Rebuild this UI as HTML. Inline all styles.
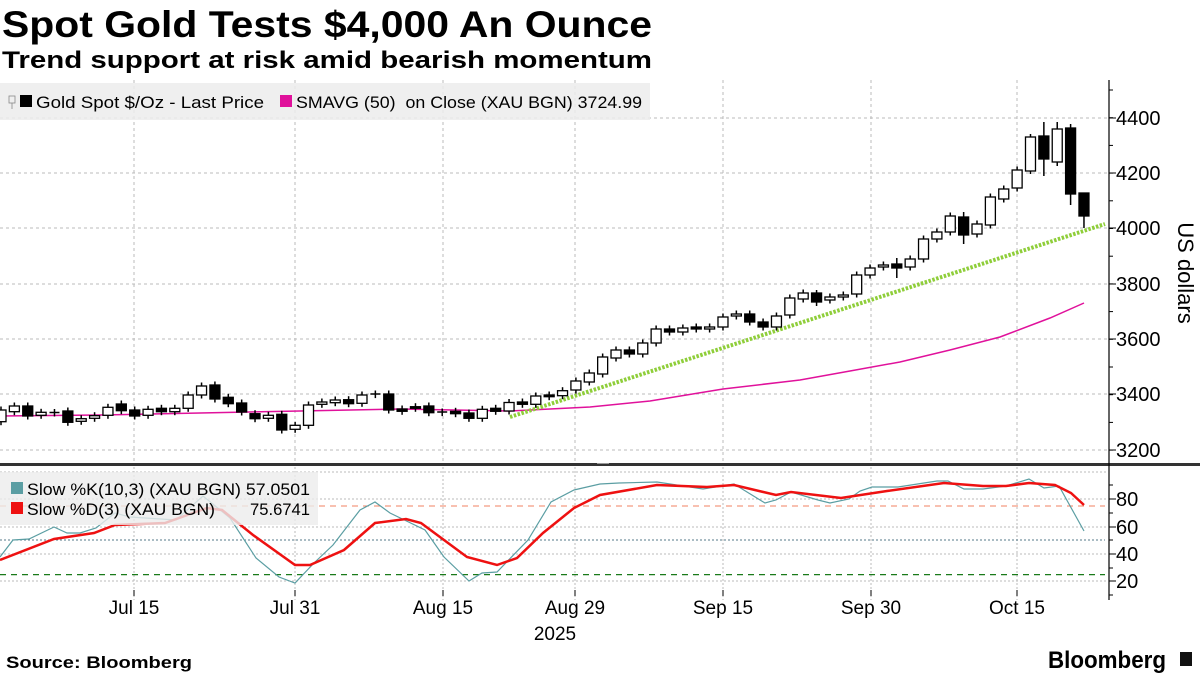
<!DOCTYPE html>
<html><head><meta charset="utf-8"><style>
html,body{margin:0;padding:0;background:#fff;width:1200px;height:675px;overflow:hidden}
svg{display:block;font-family:"Liberation Sans",Arial,sans-serif}
</style></head><body>
<svg id="s" width="1200" height="675" viewBox="0 0 1200 675" xmlns="http://www.w3.org/2000/svg">
<text x="2" y="37" font-size="37" font-weight="bold" textLength="650" lengthAdjust="spacingAndGlyphs">Spot Gold Tests $4,000 An Ounce</text>
<text x="2" y="68" font-size="24" font-weight="bold" textLength="650" lengthAdjust="spacingAndGlyphs">Trend support at risk amid bearish momentum</text>
<g id="grid"></g>
<polyline id="sma" fill="none" stroke="#e0119b" stroke-width="1.5" points="0,416 100,415 200,413 300,411 400,409 510,411 590,407 650,401 723,389 800,380 850,371 900,362 950,350 1000,337 1050,318 1084,303"/>
<line x1="510" y1="417" x2="1105" y2="224" stroke="#8fce3a" stroke-width="4" stroke-dasharray="2.5,1.5"/>
<g id="candles"></g>
<rect x="0" y="83" width="650" height="37" fill="#ececec" opacity="0.85"/>
<rect x="9" y="96" width="6" height="7" fill="none" stroke="#888" stroke-width="0.8"/>
<line x1="12" y1="103" x2="12" y2="109" stroke="#888" stroke-width="0.8"/>
<rect x="20" y="95" width="12" height="12" fill="#000"/>
<text x="36" y="108" font-size="17" textLength="228" lengthAdjust="spacingAndGlyphs">Gold Spot $/Oz - Last Price</text>
<rect x="280" y="95" width="12" height="12" fill="#e0119b"/>
<text x="296" y="108" font-size="17" textLength="346" lengthAdjust="spacingAndGlyphs" xml:space="preserve">SMAVG (50)  on Close (XAU BGN) 3724.99</text>
<rect x="0" y="463" width="1200" height="3" fill="#333"/>
<rect x="597" y="463" width="12" height="1" fill="#999"/>
<line x1="1109" y1="80" x2="1109" y2="600" stroke="#000" stroke-width="1.2"/>
<g id="ticks" font-size="20"></g>
<text transform="translate(1178,273) rotate(90)" font-size="22" text-anchor="middle">US dollars</text>
<line x1="0" y1="506" x2="1105" y2="506" stroke="#f08060" stroke-width="1" stroke-dasharray="6,5"/>
<line x1="0" y1="574.6" x2="1105" y2="574.6" stroke="#1a7a1a" stroke-width="1.2" stroke-dasharray="6,5"/>
<line x1="0" y1="540" x2="1105" y2="540" stroke="#557a8a" stroke-width="1" stroke-dasharray="2,2"/>
<polyline fill="none" stroke="#5b9ea3" stroke-width="1.2" points="0,557 13,540 29,539 54,527 67,533 80,533 96,528 115,513 130,517 176,520 203,496 230,518 256,558 279,577 295,583 314,563 333,545 360,510 375,502 390,513 425,530 444,557 469,581 482,573 497,572 528,540 551,502 574,490 600,484 619,483 657,482 703,489 734,484 765,503 776,500 791,492 818,500 830,503 849,499 860,491 872,487 898,487 937,481 948,481 964,489 983,489 1006,486 1029,479 1044,488 1059,486 1084,531"/>
<polyline fill="none" stroke="#ee1111" stroke-width="2.5" points="0,560 54,539 94,533 115,525 165,523 207,508 222,510 253,535 295,565 310,565 344,550 375,523 406,519 421,523 467,557 497,565 517,558 543,533 574,508 600,495 657,485 707,487 734,485 776,495 791,492 841,498 887,491 944,483 983,486 1006,486 1029,483 1055,485 1071,493 1084,505"/>
<rect x="0" y="472" width="318" height="53" fill="#ececec" opacity="0.8"/>
<rect x="11" y="482" width="12" height="12" fill="#5b9ea3"/>
<text x="27" y="495" font-size="17" textLength="283" lengthAdjust="spacingAndGlyphs">Slow %K(10,3) (XAU BGN) 57.0501</text>
<rect x="11" y="502" width="12" height="12" fill="#ee1111"/>
<text x="27" y="515" font-size="17" textLength="188" lengthAdjust="spacingAndGlyphs">Slow %D(3) (XAU BGN)</text>
<text x="250" y="515" font-size="17" textLength="60" lengthAdjust="spacingAndGlyphs">75.6741</text>
<g id="xl" font-size="19" text-anchor="middle"></g>
<text x="555" y="640" font-size="19" text-anchor="middle">2025</text>
<text x="6" y="668" font-size="17" font-weight="bold" textLength="186" lengthAdjust="spacingAndGlyphs">Source: Bloomberg</text>
<text x="1048" y="668" font-size="24" font-weight="bold" textLength="118" lengthAdjust="spacingAndGlyphs">Bloomberg</text>
<rect x="1180" y="652" width="12" height="14" fill="#111"/>
</svg>
<script>
var NS="http://www.w3.org/2000/svg";
function el(p,t,a){var e=document.createElementNS(NS,t);for(var k in a)e.setAttribute(k,a[k]);p.appendChild(e);return e;}
var g=document.getElementById('grid');
var vx=[134,295,443,575,723,871,1017];
[118,173,228,284,339,394,450].forEach(function(y){el(g,'line',{x1:0,y1:y,x2:1108,y2:y,stroke:'#bbb','stroke-width':1,'stroke-dasharray':'3,3'});});
[472,499,527,554,581].forEach(function(y){el(g,'line',{x1:0,y1:y,x2:1108,y2:y,stroke:'#bbb','stroke-width':1,'stroke-dasharray':'2,2'});});
vx.forEach(function(x){el(g,'line',{x1:x,y1:80,x2:x,y2:462,stroke:'#bbb','stroke-width':1,'stroke-dasharray':'3,3'});el(g,'line',{x1:x,y1:467,x2:x,y2:600,stroke:'#bbb','stroke-width':1,'stroke-dasharray':'2,2'});});
var t=document.getElementById('ticks');
[[118,'4400'],[173,'4200'],[228,'4000'],[284,'3800'],[339,'3600'],[394,'3400'],[450,'3200']].forEach(function(a){el(t,'line',{x1:1109,y1:a[0],x2:1116,y2:a[0],stroke:'#000'});el(t,'text',{x:1116,y:a[0]+7}).textContent=a[1];});
for(var y=90;y<460;y+=27.7){el(t,'line',{x1:1109,y1:y,x2:1113,y2:y,stroke:'#000'});}
[[499,'80'],[527,'60'],[554,'40'],[581,'20']].forEach(function(a){el(t,'line',{x1:1109,y1:a[0],x2:1116,y2:a[0],stroke:'#000'});el(t,'text',{x:1116,y:a[0]+7}).textContent=a[1];});
[485,513,540,568,595].forEach(function(y){el(t,'line',{x1:1109,y1:y,x2:1113,y2:y,stroke:'#000'});});
var xl=document.getElementById('xl');
['Jul 15','Jul 31','Aug 15','Aug 29','Sep 15','Sep 30','Oct 15'].forEach(function(s,i){el(xl,'text',{x:vx[i],y:614}).textContent=s;el(xl,'line',{x1:vx[i],y1:590,x2:vx[i],y2:596,stroke:'#000'});});
// [top,bottom,black(1)/white(0)]
var C=[[410,421.7,0],[406,411.7,0],[406,416,1],[412.3,415.3,0],[412.5,413,2],[411,422.3,1],[418.7,421.3,0],[415.7,418.3,0],[407.3,415.3,0],[404,410.7,1],[410,416,1],[409.3,415.3,0],[408.3,411.7,1],[408.3,411.7,0],[395,408.3,0],[386,395,0],[385,399,1],[397.3,403.7,1],[403,412,1],[413.7,418.7,1],[415.3,418.3,0],[414.3,430,1],[425.3,429.3,0],[405,425.3,0],[402,404.3,0],[400,402.7,0],[399.7,403.7,1],[395,403.3,0],[394,394.6,2],[394,410,1],[409,411.3,1],[406.7,408.3,1],[406,412.7,1],[412,412.6,2],[411.3,413.7,1],[413,418.3,1],[409.3,418.3,0],[408.3,411.3,1],[402.5,411,0],[402,404.3,1],[396,404.3,0],[395,396.7,1],[390.7,395.7,0],[381,390,0],[373,382,0],[357,374,0],[350,358,0],[350,354,1],[343,354,0],[329,343,0],[329,332,1],[328,332,0],[327,329,1],[327,329,0],[317,327,0],[314,316,0],[314,322,1],[322,327,1],[316,327,0],[298,315,0],[293,299,0],[293,302,1],[297,300,0],[295,297,0],[275,294,0],[268,275,0],[265,267,0],[264,268,1],[259,267,0],[239,259,0],[232,239,0],[216,232,0],[217,235,1],[224,234,0],[197,225,0],[189,199,0],[170,188,0],[137,171,0],[136,159,1],[129,162,0],[128,194,1],[193,216,1]];
var W={77:[134,174],78:[122,176],79:[122,166],80:[124,205],81:[193,228],72:[212,244],61:[290,306],67:[258,278]};
var cg=document.getElementById('candles');
C.forEach(function(c,i){var x=1+13.37*i;var w=W[i]||[c[0]-3.5,c[1]+3.5];
el(cg,'line',{x1:x,y1:w[0],x2:x,y2:w[1],stroke:'#000','stroke-width':1.5});
if(c[2]==2){el(cg,'line',{x1:x-5,y1:c[0],x2:x+5,y2:c[0],stroke:'#000','stroke-width':1.5});}
else el(cg,'rect',{x:x-5,y:c[0],width:10,height:Math.max(c[1]-c[0],1.5),fill:c[2]?'#000':'#fff',stroke:'#000','stroke-width':1.3});});
</script>
</body></html>
